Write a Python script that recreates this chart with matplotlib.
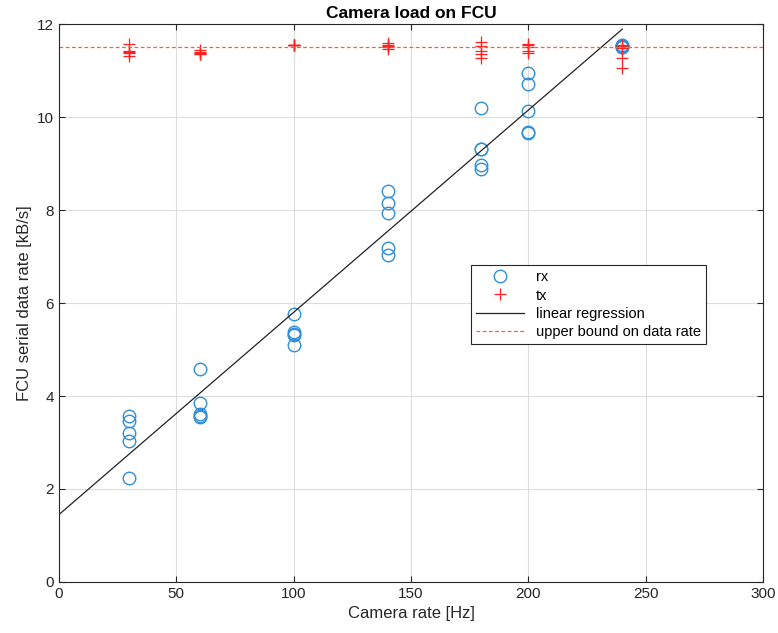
import matplotlib
matplotlib.use('Agg')
import matplotlib.pyplot as plt
import numpy as np

plt.rcParams['font.family'] = ['Liberation Sans', 'DejaVu Sans']

# camera rates [Hz], five runs each
rates = [30, 60, 100, 140, 180, 200, 240]

rx = [
    [3.58, 3.47, 3.21, 3.04, 2.24],
    [4.58, 3.84, 3.62, 3.58, 3.55],
    [5.76, 5.37, 5.34, 5.31, 5.09],
    [8.42, 8.16, 7.93, 7.19, 7.03],
    [10.20, 9.32, 9.31, 8.97, 8.88],
    [10.94, 10.70, 10.13, 9.68, 9.66],
    [11.55, 11.53, 11.52, 11.51, 11.50],
]

tx = [
    [11.58, 11.42, 11.40, 11.37, 11.32],
    [11.44, 11.40, 11.38, 11.36, 11.35],
    [11.56, 11.55, 11.55, 11.54, 11.54],
    [11.60, 11.56, 11.53, 11.50, 11.46],
    [11.62, 11.52, 11.43, 11.35, 11.26],
    [11.58, 11.55, 11.50, 11.43, 11.37],
    [11.55, 11.53, 11.48, 11.27, 11.05],
]

# regression line and upper bound
reg_intercept = 1.45
reg_slope = 0.0435
reg_x = [0, 240]
upper_bound = 11.5


def main():
    fig = plt.figure(figsize=(7.78, 6.33), dpi=100)
    ax = fig.add_axes([0.0758, 0.0806, 0.905, 0.8814])

    xs = np.repeat(rates, 5)
    ax.plot(xs, np.ravel(rx), 'o', mfc='none', mec='#2f8fd8', ms=9, mew=1.0, label='rx')
    ax.plot(xs, np.ravel(tx), '+', color='#ff2020', ms=9, mew=0.9, label='tx')

    rx_line = reg_intercept + reg_slope * np.array(reg_x)
    ax.plot(reg_x, rx_line, '-', color='#222222', lw=0.9, label='linear regression')
    ax.axhline(upper_bound, color='#f26430', ls=(0, (3, 2)), lw=0.9, label='upper bound on data rate')

    ax.set_xlim(0, 300)
    ax.set_ylim(0, 12)
    ax.set_xticks(np.arange(0, 301, 50))
    ax.set_yticks(np.arange(0, 13, 2))
    ax.grid(True, color='#dddddd', lw=0.8)
    ax.set_axisbelow(True)
    ax.tick_params(direction='in', top=True, right=True, labelsize=11, colors='#262626', length=4)
    for s in ax.spines.values():
        s.set_color('#262626')
        s.set_linewidth(0.8)

    ax.set_xlabel('Camera rate [Hz]', fontsize=12, color='#262626')
    ax.set_ylabel('FCU serial data rate [kB/s]', fontsize=12, color='#262626')
    ax.set_title('Camera load on FCU', fontsize=12.5, fontweight='bold', pad=4)

    leg = ax.legend(loc='upper left', bbox_to_anchor=(0.585, 0.568), fontsize=10.5,
                    fancybox=False, framealpha=1, edgecolor='#262626',
                    borderpad=0.35, labelspacing=0.3, handlelength=3.3, borderaxespad=0)
    leg.get_frame().set_linewidth(0.8)

    fig.savefig('out.png', dpi=100)
    plt.close(fig)


if __name__ == '__main__':
    main()
